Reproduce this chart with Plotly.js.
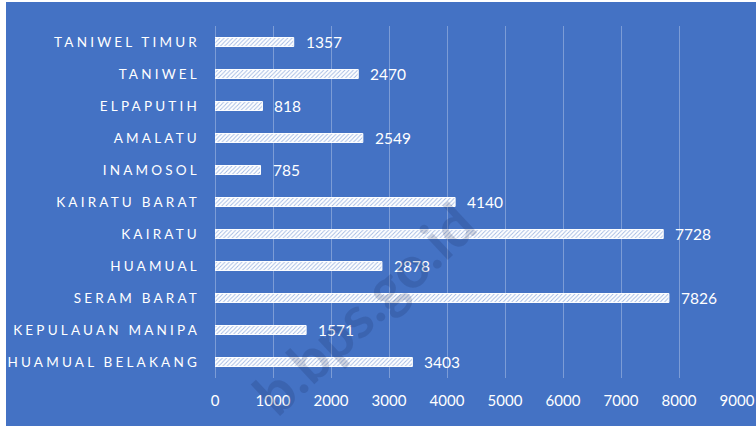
<!DOCTYPE html>
<html>
<head>
<meta charset="utf-8">
<script src="https://cdn.plot.ly/plotly-3.0.1.min.js"></script>
<style>
  html, body { margin: 0; padding: 0; background: #ffffff; }
  #chart { position: absolute; left: 6px; top: 2px; width: 750px; height: 424px; }
</style>
</head>
<body>
<div id="chart"></div>
<script>
// Data (bottom to top as drawn by Plotly)
const categories = [
  "HUAMUAL BELAKANG",
  "KEPULAUAN MANIPA",
  "SERAM BARAT",
  "HUAMUAL",
  "KAIRATU",
  "KAIRATU BARAT",
  "INAMOSOL",
  "AMALATU",
  "ELPAPUTIH",
  "TANIWEL",
  "TANIWEL TIMUR"
];
const values = [3403, 1571, 7826, 2878, 7728, 4140, 785, 2549, 818, 2470, 1357];
const xTickValues = [0, 1000, 2000, 3000, 4000, 5000, 6000, 7000, 8000, 9000];
const xTickLabels = ["0", "1000", "2000", "3000", "4000", "5000", "6000", "7000", "8000", "9000"];
const watermarkText = "b.bps.go.id";

const BLUE = "#4472C4";
const GRID = "rgba(255,255,255,0.3)";
const FONT = "Lato, 'Open Sans', sans-serif";

const trace = {
  type: "bar",
  orientation: "h",
  x: values,
  y: categories,
  width: 0.28,
  marker: {
    color: "#ffffff",
    line: { color: "#ffffff", width: 1 },
    pattern: { shape: "/", fgcolor: BLUE, size: 3, solidity: 0.3, fillmode: "overlay" }
  },
  hoverinfo: "skip",
  showlegend: false
};

const annotations = values.map((v, i) => ({
  x: v, y: categories[i], xref: "x", yref: "y",
  text: String(v), showarrow: false,
  xanchor: "left", yanchor: "middle", xshift: 10,
  font: { family: FONT, size: 15.5, color: "#ffffff" }
}));

annotations.push({
  x: 0.285, y: 0.2, xref: "paper", yref: "paper",
  xanchor: "center", yanchor: "middle",
  text: "<b>" + watermarkText + "</b>", showarrow: false,
  textangle: -43,
  font: { family: FONT, size: 58, color: "rgba(20,40,90,0.18)" }
});

const layout = {
  width: 750, height: 424,
  margin: { l: 209, r: 19, t: 24, b: 48 },
  paper_bgcolor: BLUE,
  plot_bgcolor: BLUE,
  font: { family: FONT, color: "#ffffff" },
  xaxis: {
    range: [0, 9000],
    tickvals: xTickValues,
    ticktext: xTickLabels,
    showgrid: true, gridcolor: GRID, gridwidth: 1,
    zeroline: true, zerolinecolor: GRID, zerolinewidth: 1,
    showline: false, ticks: "",
    ticklabelstandoff: 12,
    tickfont: { family: FONT, size: 15, color: "#ffffff" },
    fixedrange: true
  },
  yaxis: {
    type: "category",
    categoryorder: "array",
    categoryarray: categories,
    showgrid: false, zeroline: false, showline: false, ticks: "",
    ticklabelstandoff: 14,
    tickfont: { family: FONT, size: 13.5, color: "#ffffff" },
    fixedrange: true
  },
  annotations: annotations
};

Plotly.newPlot("chart", [trace], layout, { displayModeBar: false, staticPlot: true }).then(() => {
  document.querySelectorAll("#chart .ytick text").forEach(t => {
    t.style.letterSpacing = "3.2px";
  });
});
</script>
</body>
</html>
